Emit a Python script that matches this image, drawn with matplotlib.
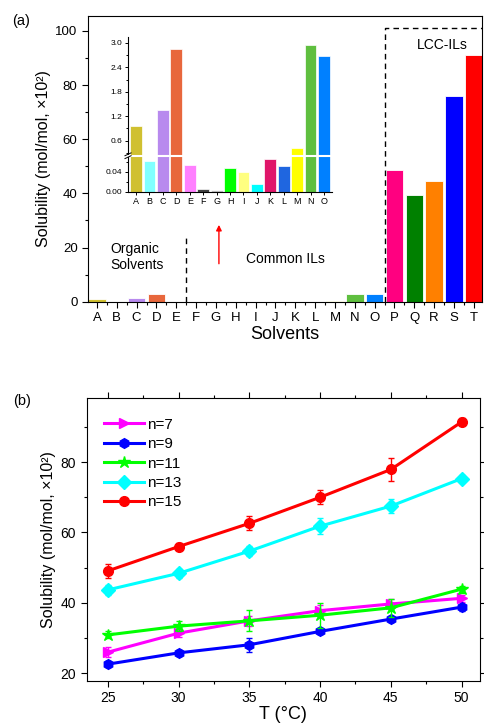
import numpy as np
import matplotlib
matplotlib.use("Agg")
import matplotlib.pyplot as plt
from matplotlib.ticker import MultipleLocator

plt.rcParams['font.family'] = ['Liberation Sans', 'DejaVu Sans']

# --- data panel (a) ---
solvents = list("ABCDEFGHIJKLMNOPQRST")
solubility = [0.96, 0.061, 1.34, 2.84, 0.053, 0.005, 0.004, 0.048, 0.039, 0.015,
              0.066, 0.052, 0.43, 2.94, 2.68, 48.5, 39.3, 44.4, 75.8, 91.2]
bar_colors = ['#D0C030', '#80FFFF', '#B88AEE', '#E8673C', '#FF80FF', '#404040',
              '#C0C0C0', '#00FF00', '#FFFF80', '#00FFFF', '#E0166A', '#1F66E0',
              '#FFFF00', '#5FBF3F', '#0080FF', '#FF0080', '#008000', '#FF8000',
              '#0000FF', '#FF0000']

# --- data panel (b) ---
temps = [25, 30, 35, 40, 45, 50]
series_labels = ['n=7', 'n=9', 'n=11', 'n=13', 'n=15']
n7 = [26.0, 31.4, 34.9, 37.8, 39.7, 41.3]
n9 = [22.6, 25.8, 28.1, 31.9, 35.4, 38.8]
n11 = [30.9, 33.4, 34.9, 36.5, 38.6, 43.9]
n13 = [43.7, 48.4, 54.7, 61.8, 67.5, 75.3]
n15 = [49.1, 56.0, 62.6, 70.0, 77.9, 91.4]
err7 = [1.5, 1.0, 1.5, 1.5, 1.5, 1.0]
err9 = [0.8, 0.8, 2.0, 0.8, 0.8, 1.0]
err11 = [1.0, 1.5, 3.0, 3.5, 2.5, 1.0]
err13 = [1.5, 1.2, 1.5, 2.2, 2.0, 1.0]
err15 = [2.0, 1.0, 2.0, 2.0, 3.3, 1.0]
line_colors = ['#FF00FF', '#0000FF', '#00FF00', '#00FFFF', '#FF0000']
markers = ['>', 'h', '*', 'D', 'o']

fig = plt.figure(figsize=(4.84, 7.27), dpi=100)

# ---------------- panel (a) ----------------
ax = fig.add_axes([0.1818, 0.585, 0.814, 0.393])
x = np.arange(len(solvents))
ax.bar(x, solubility, width=0.88, color=bar_colors, edgecolor='white', linewidth=0.6)
ax.set_xlim(-0.45, 19.41)
ax.set_ylim(0, 105.5)
ax.set_xticks(x)
ax.set_xticklabels(solvents, fontsize=9.5)
ax.xaxis.set_minor_locator(MultipleLocator(0.5))
ax.yaxis.set_major_locator(MultipleLocator(20))
ax.yaxis.set_minor_locator(MultipleLocator(10))
ax.tick_params(axis='y', labelsize=9.5, direction='out', length=4, width=0.8)
ax.tick_params(axis='x', direction='out', length=4, width=0.8)
ax.tick_params(which='minor', direction='out', length=2.5, width=0.8)
ax.set_xlabel('Solvents', fontsize=13, labelpad=1)
ax.set_ylabel('Solubility (mol/mol, ×10²)', fontsize=11.5, labelpad=3)

# annotations
ax.plot([4.5, 4.5], [0, 24.4], ls=(0, (4, 3)), color='black', lw=1)
ax.plot([14.5, 14.5, 19.41], [0, 101, 101], ls=(0, (4, 3)), color='black', lw=1,
        clip_on=False)
ax.text(0.7, 16.4, 'Organic\nSolvents', fontsize=10, va='center', ha='left',
        linespacing=1.2)
ax.text(9.5, 15.9, 'Common ILs', fontsize=10, va='center', ha='center')
ax.text(17.4, 94.8, 'LCC-ILs', fontsize=10, va='center', ha='center')
ax.annotate('', xy=(6.15, 29.4), xytext=(6.15, 13),
            arrowprops=dict(arrowstyle='-|>', color='red', lw=1, mutation_scale=8))
fig.text(0.025, 0.965, '(a)', fontsize=10.5)

# ---------------- inset with break ----------------
ax_lo = fig.add_axes([0.2645, 0.7363, 0.4215, 0.0495])
ax_hi = fig.add_axes([0.2645, 0.7858, 0.4215, 0.1637], sharex=ax_lo)
xi = np.arange(15)
for a in (ax_lo, ax_hi):
    a.bar(xi, solubility[:15], width=0.88, color=bar_colors[:15],
          edgecolor='white', linewidth=0.5)
    a.spines['top'].set_visible(False)
    a.spines['right'].set_visible(False)
    a.patch.set_alpha(0)
ax_lo.set_xlim(-0.6, 14.6)
ax_lo.set_ylim(0, 0.072)
ax_hi.set_ylim(0.23, 3.15)
ax_hi.spines['bottom'].set_visible(False)
ax_hi.tick_params(axis='x', bottom=False, labelbottom=False)
ax_lo.set_xticks(xi)
ax_lo.set_xticklabels(solvents[:15], fontsize=6.5)
ax_lo.tick_params(axis='x', length=2.5, width=0.7, pad=1.5)
ax_lo.yaxis.set_major_locator(MultipleLocator(0.04))
ax_lo.yaxis.set_minor_locator(MultipleLocator(0.02))
ax_lo.yaxis.set_major_formatter(plt.FormatStrFormatter('%.2f'))
ax_hi.yaxis.set_major_locator(MultipleLocator(0.6))
ax_hi.yaxis.set_minor_locator(MultipleLocator(0.3))
ax_hi.yaxis.set_major_formatter(plt.FormatStrFormatter('%.1f'))
for a in (ax_lo, ax_hi):
    a.tick_params(axis='y', labelsize=6, length=2.5, width=0.7, pad=1.5)
    a.tick_params(which='minor', length=1.5, width=0.7)
# break: white line across bars and slashes on the spine
ax_hi.axhline(0.23, color='white', lw=1.5, clip_on=False, zorder=5)
for dy in (-0.012, 0.012):
    ax_hi.plot([-0.015, 0.015], [dy - 0.012, dy + 0.012], transform=ax_hi.transAxes,
               color='black', lw=0.7, clip_on=False, zorder=6)

# ---------------- panel (b) ----------------
bx = fig.add_axes([0.179, 0.0637, 0.8126, 0.3888])
ys = [n7, n9, n11, n13, n15]
errs = [err7, err9, err11, err13, err15]
handles = []
for y, e, c, m, lab in zip(ys, errs, line_colors, markers, series_labels):
    ms = 9 if m == '*' else 7
    bx.errorbar(temps, y, yerr=e, color=c, fmt='none', elinewidth=1,
                capsize=2.5, capthick=1)
    h, = bx.plot(temps, y, color=c, marker=m, markersize=ms, lw=2.2, label=lab)
    handles.append(h)
bx.set_xlim(23.5, 51.3)
bx.set_ylim(17.9, 98.2)
bx.xaxis.set_major_locator(MultipleLocator(5))
bx.xaxis.set_minor_locator(MultipleLocator(2.5))
bx.yaxis.set_major_locator(MultipleLocator(20))
bx.yaxis.set_minor_locator(MultipleLocator(10))
bx.tick_params(axis='both', labelsize=10, direction='out', length=4, width=0.8)
bx.tick_params(which='minor', direction='out', length=2.5, width=0.8)
bx.tick_params(axis='y', right=True, which='both')
bx.tick_params(axis='x', top=True, which='both')
bx.set_xlabel('T (°C)', fontsize=13, labelpad=1)
bx.set_ylabel('Solubility (mol/mol, ×10²)', fontsize=11.5, labelpad=3)
leg = bx.legend(handles=handles, loc='upper left', bbox_to_anchor=(0.045, 0.93),
                frameon=False, fontsize=11, handlelength=2.6, handletextpad=0.2,
                labelspacing=0.35, borderpad=0, borderaxespad=0)
fig.text(0.028, 0.443, '(b)', fontsize=10.5)

fig.savefig('out.png', dpi=100)
